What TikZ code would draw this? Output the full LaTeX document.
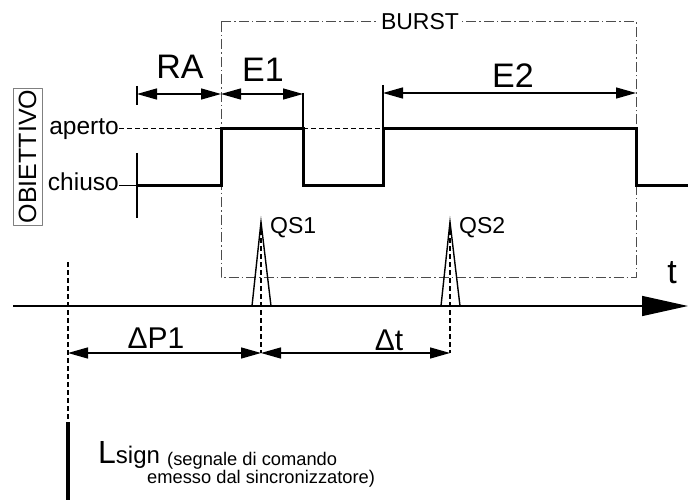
\documentclass[tikz,border=0pt]{standalone}
\usepackage{fontspec}
\setmainfont{Liberation Sans}
\usetikzlibrary{arrows.meta}

\tikzset{
  quota/.style={{Triangle[length=20pt,width=11pt]}-{Triangle[length=20pt,width=11pt]}, line width=1.4pt},
  onda/.style={line width=3pt, line join=miter},
  burst/.style={gray!60!black, line width=1pt, dash pattern=on 10pt off 3pt on 1.5pt off 3pt},
  guida/.style={line width=1.2pt, dash pattern=on 5pt off 3pt},
  livello/.style={inner sep=0pt, font=\fontsize{24.5}{26}\selectfont},
  grande/.style={inner sep=0pt, font=\fontsize{34}{36}\selectfont},
  medio/.style={inner sep=0pt, font=\fontsize{30}{32}\selectfont},
  piccolo/.style={inner sep=0pt, font=\fontsize{23}{25}\selectfont},
  nota/.style={anchor=base west, inner sep=0pt, font=\fontsize{18.3}{19}\selectfont},
}

\begin{document}
\begin{tikzpicture}[x=1pt, y=-1pt, line join=round]
	\useasboundingbox (0,0) rectangle (688,500);
	
	\def\yap{129}
	\def\ych{185}
	\def\yax{306}
	\def\yq{353}
	
	% onda dell'obiettivo
	\coordinate (W0) at (137,\ych);
	\coordinate (W1) at (221,\ych);
	\coordinate (W2) at (221,\yap);
	\coordinate (W3) at (303,\yap);
	\coordinate (W4) at (303,\ych);
	\coordinate (W5) at (383,\ych);
	\coordinate (W6) at (383,\yap);
	\coordinate (W7) at (636,\yap);
	\coordinate (W8) at (636,\ych);
	\coordinate (W9) at (688,\ych);
	
	% impulsi
	\coordinate (Q1) at (261,222);
	\coordinate (Q2) at (450,222);
	
	% riquadro del burst
	\draw[burst] (221,22) rectangle (636,277);
	\node[piccolo, fill=white, inner xsep=2pt] (burst) at (420,22) {BURST};
	
	% livelli
	\node[draw=gray, rotate=90, inner sep=0pt, minimum width=137pt, minimum height=29pt, font=\fontsize{25}{27}\selectfont] (obiettivo) at (27.5,156.5) {OBIETTIVO};
	\node[livello, anchor=base east] (aperto) at (119,135) {aperto};
	\node[livello, anchor=base east] (chiuso) at (119,190) {chiuso};
	
	\draw[line width=1pt, dash pattern=on 5pt off 3pt] (aperto.east |- W2) -- (W2);
	\draw[line width=1pt, dash pattern=on 5pt off 3pt] (W3) -- (W6);
	\draw[line width=1pt] (chiuso.east |- W0) -- (W0);
	\draw[line width=1.5pt] (137,153) -- (137,218);
	
	\draw[onda] (W0) -- (W1) -- (W2) -- (W3) -- (W4) -- (W5) -- (W6) -- (W7) -- (W8) -- (W9);
	
	% quote RA, E1, E2
	\draw[line width=1.4pt] (137,86) -- (137,105);
	\draw[line width=1.2pt] (303,93) -- (W3);
	\draw[line width=1.2pt] (383,85) -- (W6);
	\draw[quota] (137,94) -- (221,94);
	\draw[quota] (221,94) -- (303,94);
	\draw[quota] (383,93) -- (636,93);
	\node[grande] (RA) at (180,67) {RA};
	\node[grande] (E1) at (263,70) {E1};
	\node[grande] (E2) at (513,76) {E2};
	
	% asse dei tempi
	\draw[line width=1.5pt, -{Triangle[length=46pt,width=20pt]}] (13,\yax) -- (688,\yax);
	\node[grande] (t) at (672,273) {t};
	
	% impulsi QS1, QS2
	\draw[line width=1.4pt, line join=miter] (252,\yax) -- (Q1) -- (271,\yax);
	\draw[line width=1.4pt, line join=miter] (441,\yax) -- (Q2) -- (460,\yax);
	\draw[guida] (261,230) -- (261,\yq);
	\draw[guida] (450,230) -- (450,\yq);
	\node[piccolo, anchor=west] (QS1) at (270,228) {QS1};
	\node[piccolo, anchor=west] (QS2) at (459,228) {QS2};
	
	% quote DeltaP1, Delta t
	\draw[guida] (68,262) -- (68,422);
	\draw[line width=4pt] (68,422) -- (68,500);
	\draw[quota] (68,\yq) -- (261,\yq);
	\draw[quota] (261,\yq) -- (450,\yq);
	\node[medio] (DP1) at (156,338) {ΔP1};
	\node[medio] (Dt) at (389,340) {Δt};
	
	% segnale Lsign
	\node[anchor=base west, inner sep=0pt] (Lsign) at (98,463) {\fontsize{32}{34}\selectfont L\fontsize{24}{26}\selectfont sign};
	\node[nota] (nota1) at (167,465) {(segnale di comando};
	\node[nota] (nota2) at (147,483) {emesso dal sincronizzatore)};
\end{tikzpicture}
\end{document}
